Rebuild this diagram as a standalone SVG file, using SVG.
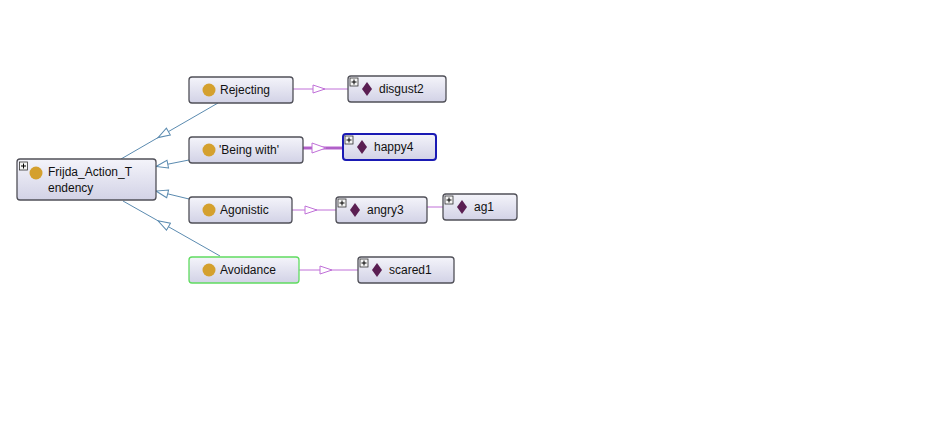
<svg xmlns="http://www.w3.org/2000/svg" width="939" height="438" viewBox="0 0 939 438">
<defs>
<linearGradient id="g" x1="0" y1="0" x2="0" y2="1">
<stop offset="0" stop-color="#f4f4fa"/>
<stop offset="1" stop-color="#d2d2e6"/>
</linearGradient>
<marker id="ab" viewBox="0 0 14 10" refX="13" refY="5" markerWidth="14" markerHeight="10" markerUnits="userSpaceOnUse" orient="auto">
<path d="M1,1 L13,5 L1,9 Z" fill="#fff" stroke="#5b8bb0" stroke-width="1"/>
</marker>
<marker id="ap" viewBox="0 0 14 10" refX="13" refY="5" markerWidth="14" markerHeight="10" markerUnits="userSpaceOnUse" orient="auto">
<path d="M1,1 L13,5 L1,9 Z" fill="#fff" stroke="#c070d8" stroke-width="1"/>
</marker>
<marker id="ap2" viewBox="0 0 16 12" refX="15" refY="6" markerWidth="16" markerHeight="12" markerUnits="userSpaceOnUse" orient="auto">
<path d="M1,1 L15,6 L1,11 Z" fill="#fff" stroke="#c070d8" stroke-width="1"/>
</marker>
</defs>
<style>
.n{fill:url(#g);stroke:#505058;stroke-width:1.3}
.t{font-family:"Liberation Sans",Arial,sans-serif;font-size:12px;fill:#111}
.c{fill:#d4a02e}
.d{fill:#5a1e52}
.x{fill:#f4f4f4;stroke:#333;stroke-width:0.8}
.xp{stroke:#000;stroke-width:1}
.lb{fill:none;stroke:#5b8bb0;stroke-width:1}
.lp{fill:none;stroke:#c070d8;stroke-width:1}
</style>
<rect width="939" height="438" fill="#fff"/>
<g id="connectors">
<path class="lb" d="M218,103 L158,137.6 L121,159" marker-mid="url(#ab)"/>
<path class="lb" d="M189,160 L156,166.5" marker-end="url(#ab)"/>
<path class="lb" d="M189,199 L156,191" marker-end="url(#ab)"/>
<path class="lb" d="M220,256 L158,220.8 L123,201" marker-mid="url(#ab)"/>
<path class="lp" d="M293,89 L325,89 L348,89" marker-mid="url(#ap)"/>
<path fill="none" stroke="#dcb0e8" stroke-width="4" d="M303,148 L342,148"/>
<path fill="none" stroke="#b060c8" stroke-width="2" d="M303,148 L326,148 L342,148" marker-mid="url(#ap2)"/>
<path class="lp" stroke-width="1.5" d="M292,210 L317,210 L336,210" marker-mid="url(#ap)"/>
<path class="lp" d="M427,207 L443,207"/>
<path class="lp" d="M299,270 L332,270 L358,270" marker-mid="url(#ap)"/>
</g>
<g id="Frijda_Action_Tendency">
<rect class="n" x="17" y="159" width="139" height="41" rx="3"/>
<rect class="x" x="19.5" y="162" width="8" height="8"/>
<path class="xp" d="M21,166 H26 M23.5,163.5 V168.5"/>
<circle class="c" cx="36" cy="173" r="6.5"/>
<text class="t" x="48" y="176">Frijda_Action_T</text>
<text class="t" x="48" y="192">endency</text>
</g>
<g id="Rejecting">
<rect class="n" x="189" y="77" width="104" height="26" rx="3"/>
<circle class="c" cx="209" cy="90" r="6.5"/>
<text class="t" x="220" y="94">Rejecting</text>
</g>
<g id="Being_with">
<rect class="n" x="189" y="137" width="114" height="26" rx="3"/>
<circle class="c" cx="209" cy="150" r="6.5"/>
<text class="t" x="219" y="154">'Being with'</text>
</g>
<g id="Agonistic">
<rect class="n" x="189" y="197" width="103" height="26" rx="3"/>
<circle class="c" cx="209" cy="210" r="6.5"/>
<text class="t" x="220" y="214">Agonistic</text>
</g>
<g id="Avoidance">
<rect class="n" x="189" y="257" width="110" height="26" rx="3" style="stroke:#60dc60"/>
<circle class="c" cx="209" cy="270" r="6.5"/>
<text class="t" x="220" y="274">Avoidance</text>
</g>
<g id="disgust2">
<rect class="n" x="348" y="76" width="98" height="26" rx="3"/>
<rect class="x" x="350" y="78" width="8" height="8"/>
<path class="xp" d="M351.5,82 H356.5 M354,79.5 V84.5"/>
<path class="d" d="M367,82 L372,89 L367,96 L362,89 Z"/>
<text class="t" x="379" y="93">disgust2</text>
</g>
<g id="happy4">
<rect class="n" x="343" y="134" width="93" height="26" rx="3" style="stroke:#1a1ab4;stroke-width:2"/>
<rect class="x" x="345" y="136" width="8" height="8"/>
<path class="xp" d="M346.5,140 H351.5 M349,137.5 V142.5"/>
<path class="d" d="M362,140 L367,147 L362,154 L357,147 Z"/>
<text class="t" x="374" y="151">happy4</text>
</g>
<g id="angry3">
<rect class="n" x="336" y="197" width="91" height="26" rx="3"/>
<rect class="x" x="338" y="199" width="8" height="8"/>
<path class="xp" d="M339.5,203 H344.5 M342,200.5 V205.5"/>
<path class="d" d="M355,203 L360,210 L355,217 L350,210 Z"/>
<text class="t" x="367" y="214">angry3</text>
</g>
<g id="ag1">
<rect class="n" x="443" y="194" width="74" height="26" rx="3"/>
<rect class="x" x="445" y="196" width="8" height="8"/>
<path class="xp" d="M446.5,200 H451.5 M449,197.5 V202.5"/>
<path class="d" d="M462,200 L467,207 L462,214 L457,207 Z"/>
<text class="t" x="474" y="211">ag1</text>
</g>
<g id="scared1">
<rect class="n" x="358" y="257" width="96" height="26" rx="3"/>
<rect class="x" x="360" y="259" width="8" height="8"/>
<path class="xp" d="M361.5,263 H366.5 M364,260.5 V265.5"/>
<path class="d" d="M377,263 L382,270 L377,277 L372,270 Z"/>
<text class="t" x="389" y="274">scared1</text>
</g>
</svg>
